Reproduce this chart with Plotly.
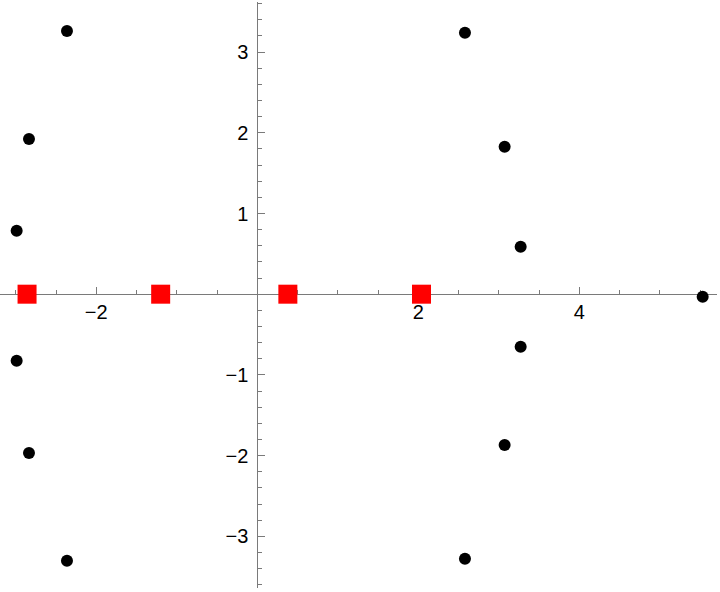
import plotly.graph_objects as go

# Black points (x, y)
dot_x = [-2.364, -2.836, -2.989, -2.989, -2.836, -2.364,
         2.580, 3.073, 3.272, 3.272, 3.073, 2.580, 5.533]
dot_y = [3.262, 1.922, 0.787, -0.824, -1.968, -3.302,
         3.240, 1.828, 0.589, -0.651, -1.869, -3.278, -0.031]

# Red squares on the real axis
sq_x = [-2.86, -1.20, 0.38, 2.04]
sq_y = [0, 0, 0, 0]

x_ticks = [-2, 2, 4]
y_ticks = [-3, -2, -1, 1, 2, 3]

x_range = [-3.196, 5.711]
y_range = [-3.641, 3.621]

fig = go.Figure()
fig.add_trace(go.Scatter(x=dot_x, y=dot_y, mode="markers",
                         marker=dict(color="black", size=12, symbol="circle",
                                     line=dict(width=0)),
                         cliponaxis=False,
                         showlegend=False, hoverinfo="skip"))
fig.add_trace(go.Scatter(x=sq_x, y=sq_y, mode="markers",
                         marker=dict(color="#ff0000", size=19, symbol="square",
                                     line=dict(width=0)),
                         cliponaxis=False,
                         showlegend=False, hoverinfo="skip"))

xpos = (0 - x_range[0]) / (x_range[1] - x_range[0])
ypos = (0 - y_range[0]) / (y_range[1] - y_range[0])

axis_color = "#7a7a7a"
font = dict(family="Liberation Sans, Arial, sans-serif", size=20, color="black")

fig.update_layout(
    width=720, height=592,
    margin=dict(l=0, r=3, t=2, b=4),
    paper_bgcolor="white", plot_bgcolor="white",
    xaxis=dict(range=x_range, anchor="free", position=ypos, automargin=False,
               showgrid=False, zeroline=False, showline=True,
               linecolor=axis_color, linewidth=1,
               tickvals=x_ticks, ticks="inside", ticklen=7, tickwidth=1,
               tickcolor=axis_color, tickfont=font, ticklabelstandoff=0,
               minor=dict(dtick=0.5, tick0=0, ticks="inside", ticklen=4,
                          tickcolor=axis_color, showgrid=False),
               layer="below traces", fixedrange=True),
    yaxis=dict(range=y_range, anchor="free", position=xpos, automargin=False,
               showgrid=False, zeroline=False, showline=True,
               linecolor=axis_color, linewidth=1,
               tickvals=y_ticks, ticks="inside", ticklen=7, tickwidth=1,
               tickcolor=axis_color, tickfont=font, ticklabelstandoff=5,
               minor=dict(dtick=0.2, tick0=0, ticks="inside", ticklen=4,
                          tickcolor=axis_color, showgrid=False),
               layer="below traces", fixedrange=True),
)

fig.write_html("out.html", config={"displayModeBar": False},
               post_script="document.body.style.margin='0';document.body.style.padding='0';")
